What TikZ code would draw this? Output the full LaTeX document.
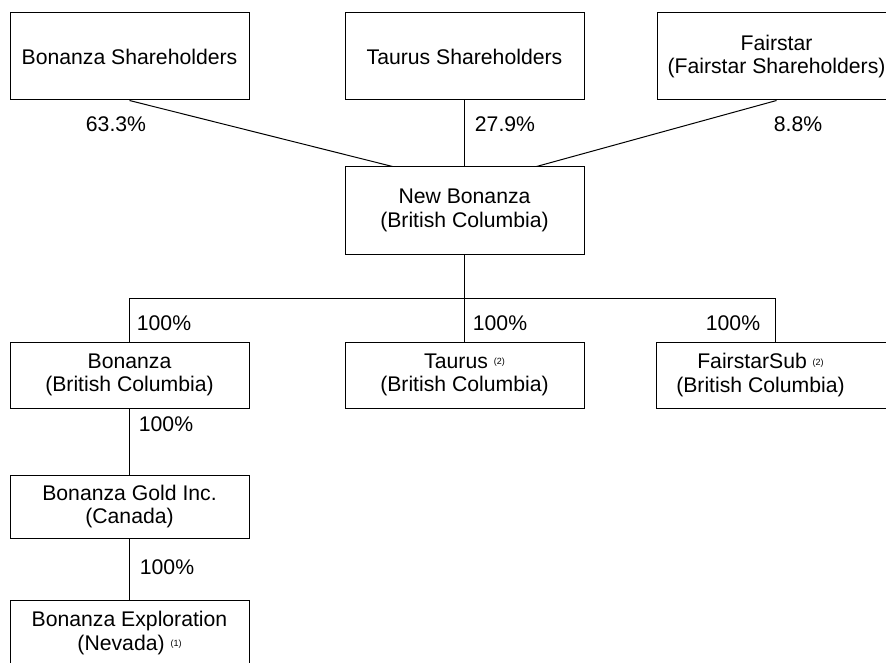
\documentclass[tikz,border=0pt]{standalone}
\usepackage{fontspec}
\setmainfont{Liberation Sans}
\usetikzlibrary{calc}
\newcommand{\renvoi}[1]{\ \raisebox{3.5pt}{\fontsize{9}{9}\selectfont(#1)}}
\newcommand{\bc}{(British Columbia)}
\tikzset{
  entite/.style={draw, line width=1pt, minimum width=239pt, inner sep=0pt, align=center,
    font=\fontsize{21.2}{23.5}\selectfont},
  part/.style={inner sep=0pt, font=\fontsize{21.2}{23.5}\selectfont}
}

\begin{document}
\begin{tikzpicture}[x=1pt, y=-1pt, line width=1pt]
                    \clip (0,0) rectangle (886,663);

                    \node[entite, minimum height=87pt] (bsh) at (129.5,56.5) {Bonanza Shareholders};
                    \node[entite, minimum height=87pt] (tsh) at (464.5,56.5) {Taurus Shareholders};
                    \node[entite, minimum height=87pt] (fsh) at (776.5,56.5) {Fairstar\\(Fairstar Shareholders)};
                    \node[entite, minimum height=87pt] (nb) at (464.5,210.5) {New Bonanza\\\bc};

                    \node[entite, minimum height=66pt] (bon) at (129.5,375) {Bonanza\\\bc};
                    \node[entite, minimum height=66pt] (tau) at (464.5,375) {Taurus\renvoi{2}\\\bc};
                    \node[entite, minimum height=66pt] (fsub) at (775.5,375) {FairstarSub\renvoi{2}\hspace*{30pt}\\\bc\hspace*{30pt}};
                    \node[entite, minimum height=63pt] (bgold) at (129.5,506.5) {Bonanza Gold Inc.\\(Canada)};
                    \node[entite, minimum height=66pt] (bexp) at (129.5,633) {Bonanza Exploration\\(Nevada)\renvoi{1}};

                    \node[part] (p1) at (116,124) {63.3\%};
                    \node[part] (p2) at (505,124) {27.9\%};
                    \node[part] (p3) at (798,124) {8.8\%};
                    \node[part] (p4) at (164,323) {100\%};
                    \node[part] (p5) at (500,323) {100\%};
                    \node[part] (p6) at (733,323) {100\%};
                    \node[part] (p7) at (166,424) {100\%};
                    \node[part] (p8) at (167,567) {100\%};

                    \draw (bsh.south) -- ($(nb.north west)!0.2!(nb.north east)$);
                    \draw (tsh.south) -- (nb.north);
                    \draw (fsh.south) -- ($(nb.north west)!0.8!(nb.north east)$);

                    \draw (nb.south) -- (tau.north);
                    \coordinate (bus) at ($(nb.south)+(0,44)$);
                    \draw (bon.north) |- (bus) -| (fsub.north);

                    \draw (bon.south) -- (bgold.north);
                    \draw (bgold.south) -- (bexp.north);
                \end{tikzpicture}
\end{document}
